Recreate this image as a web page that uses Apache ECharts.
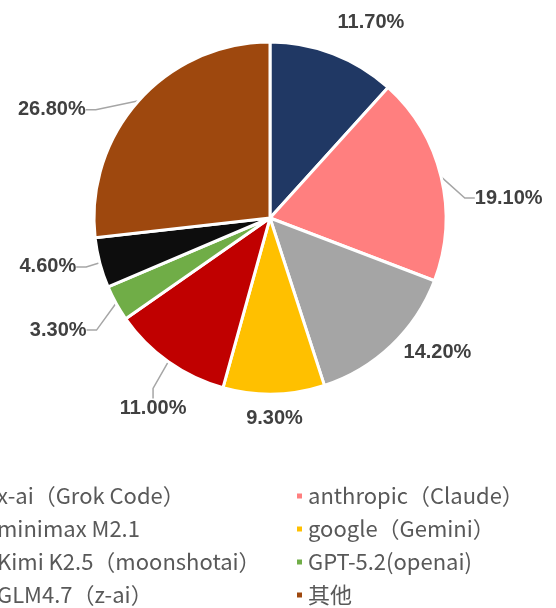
<!DOCTYPE html>
<html>
<head>
<meta charset="utf-8">
<script src="https://cdn.jsdelivr.net/npm/echarts@6/dist/echarts.min.js"></script>
<style>
  html, body { margin: 0; padding: 0; background: #fff; }
  #chart { width: 556px; height: 608px; }
</style>
</head>
<body>
<div id="chart"></div>
<script>
// 数据
const names = [
  "x-ai（Grok Code）",
  "anthropic（Claude）",
  "minimax M2.1",
  "google（Gemini）",
  "Kimi K2.5（moonshotai）",
  "GPT-5.2(openai)",
  "GLM4.7（z-ai）",
  "其他",
];
const shares = [11.7, 19.1, 14.2, 9.3, 11.0, 3.3, 4.6, 26.8];

// 样式
const colors = ["#203864", "#FF7F7F", "#A5A5A5", "#FFC000", "#C00000", "#70AD47", "#0D0D0D", "#9E480E"];
const showLine = [false, true, false, false, true, true, true, true];
// 标签微调 (dx, dy)
const labelShift = [[-15, -20], [7, 24], [-11, -2], [-43, 13], [40, 37], [-4, 21], [3, 1], [-29, 17]];

const leftNames = [names[0], names[2], names[4], names[6]];
const rightNames = [names[1], names[3], names[5], names[7]];

const chart = echarts.init(document.getElementById("chart"));

const legendBase = {
  orient: "vertical",
  top: 485,
  height: 160,
  padding: 0,
  icon: "rect",
  itemWidth: 7,
  itemHeight: 7,
  itemGap: 11,
  selectedMode: false,
  textStyle: {
    fontFamily: "Noto Sans CJK SC",
    fontSize: 22,
    color: "#595959",
    lineHeight: 20,
  },
};

chart.setOption({
  color: colors,
  legend: [
    Object.assign({}, legendBase, { left: -16, data: leftNames }),
    Object.assign({}, legendBase, { left: 295, data: rightNames }),
  ],
  series: [
    {
      type: "pie",
      center: [270, 218],
      radius: 176,
      startAngle: 90,
      clockwise: true,
      animation: false,
      itemStyle: {
        borderColor: "#fff",
        borderWidth: 3,
      },
      label: {
        show: true,
        position: "outside",
        formatter: (p) => p.value.toFixed(2) + "%",
        fontFamily: "Liberation Sans",
        fontWeight: "bold",
        fontSize: 20,
        color: "#404040",
      },
      labelLine: {
        length: 12,
        length2: 10,
        lineStyle: { color: "#A6A6A6", width: 1.5 },
      },
      labelLayout: (params) => ({
        x: params.labelRect.x + labelShift[params.dataIndex][0],
        y: params.labelRect.y + labelShift[params.dataIndex][1],
        align: "left",
        verticalAlign: "top",
      }),
      data: names.map((n, i) => ({
        name: n,
        value: shares[i],
        labelLine: { show: showLine[i] },
      })),
    },
  ],
});
</script>
</body>
</html>
